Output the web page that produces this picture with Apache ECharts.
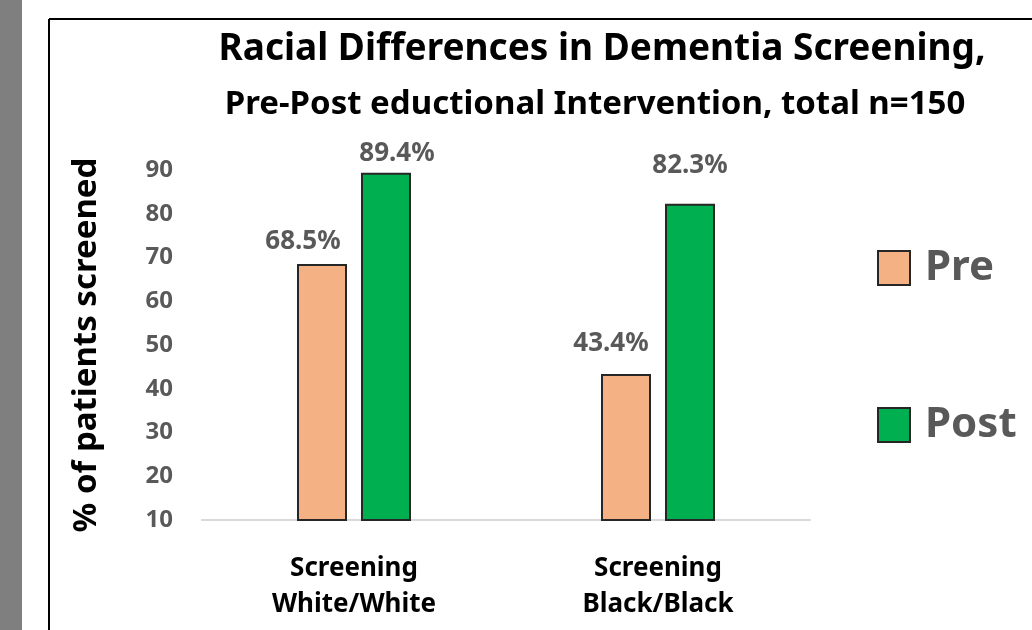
<!DOCTYPE html>
<html>
<head>
<meta charset="utf-8">
<script src="https://cdn.jsdelivr.net/npm/echarts@6/dist/echarts.min.js"></script>
<style>
  html, body { margin: 0; padding: 0; background: #fff; }
  #chart { width: 1032px; height: 630px; }
</style>
</head>
<body>
<div id="chart"></div>
<script>
// data
const categories = ['Screening\nWhite/White', 'Screening\nBlack/Black']
const preValues = [68.5, 43.4]
const postValues = [89.4, 82.3]
const yTicks = [10, 20, 30, 40, 50, 60, 70, 80, 90]

// hand-placed data labels, as in the original slide
const preLabelOffsets = [[-19, -9], [-15, -17]]
const postLabelOffsets = [[11, -6], [0, -25]]

const font = 'Noto Sans'
const chart = echarts.init(document.getElementById('chart'))

function withLabels(values, offsets) {
  return values.map(function (v, i) {
    return { value: v, label: { offset: offsets[i] } }
  })
}

const barLabel = {
  show: true,
  position: 'top',
  distance: 0,
  fontFamily: font,
  fontWeight: 'bold',
  fontSize: 26,
  lineHeight: 26,
  color: '#595959',
  formatter: function (p) { return p.value.toFixed(1) + '%' }
}

const option = {
  animation: false,
  textStyle: { fontFamily: font },
  graphic: [
    { type: 'rect', left: 0, top: 0, shape: { width: 22, height: 630 }, style: { fill: '#7f7f7f' }, silent: true },
    { type: 'line', shape: { x1: 49, y1: 19, x2: 1032, y2: 19 }, style: { stroke: '#000', lineWidth: 2 }, silent: true },
    { type: 'line', shape: { x1: 49, y1: 19, x2: 49, y2: 630 }, style: { stroke: '#000', lineWidth: 2 }, silent: true }
  ],
  title: [
    {
      text: 'Racial Differences in Dementia Screening,',
      left: 597,
      top: 26,
      textAlign: 'center',
      textStyle: { fontFamily: font, fontWeight: 'bold', fontSize: 37, color: '#000' }
    },
    {
      text: 'Pre-Post eductional Intervention, total n=150',
      left: 590,
      top: 83,
      textAlign: 'center',
      textStyle: { fontFamily: font, fontWeight: 'bold', fontSize: 33, color: '#000' }
    }
  ],
  legend: {
    orient: 'vertical',
    left: 877,
    top: 247,
    padding: 0,
    itemWidth: 32,
    itemHeight: 34,
    itemGap: 115,
    icon: 'rect',
    textStyle: {
      fontFamily: font,
      fontWeight: 'bold',
      fontSize: 42,
      lineHeight: 34,
      color: '#595959',
      padding: [0, 0, 0, 10]
    },
    data: ['Pre', 'Post']
  },
  grid: {
    left: 202,
    right: 222,
    top: 170,
    bottom: 110,
    containLabel: false
  },
  xAxis: {
    type: 'category',
    data: categories,
    axisTick: { show: false },
    axisLine: { lineStyle: { color: '#d9d9d9', width: 2 } },
    axisLabel: {
      margin: 31,
      fontFamily: font,
      fontWeight: 'bold',
      fontSize: 26,
      lineHeight: 36,
      color: '#000'
    }
  },
  yAxis: {
    type: 'value',
    min: yTicks[0],
    max: yTicks[yTicks.length - 1],
    interval: 10,
    name: '% of patients screened',
    nameLocation: 'middle',
    nameGap: 99,
    nameTextStyle: { fontFamily: font, fontWeight: 'bold', fontSize: 33, color: '#000' },
    axisLine: { show: false },
    axisTick: { show: false },
    splitLine: { show: false },
    axisLabel: {
      margin: 29,
      fontFamily: font,
      fontWeight: 'bold',
      fontSize: 24,
      color: '#595959'
    }
  },
  series: [
    {
      name: 'Pre',
      type: 'bar',
      barWidth: 50,
      barGap: '28%',
      data: withLabels(preValues, preLabelOffsets),
      itemStyle: { color: '#f4b183', borderColor: '#262626', borderWidth: 2 },
      label: barLabel
    },
    {
      name: 'Post',
      type: 'bar',
      barWidth: 50,
      barGap: '28%',
      data: withLabels(postValues, postLabelOffsets),
      itemStyle: { color: '#00b050', borderColor: '#262626', borderWidth: 2 },
      label: barLabel
    }
  ]
}

chart.setOption(option)
</script>
</body>
</html>
